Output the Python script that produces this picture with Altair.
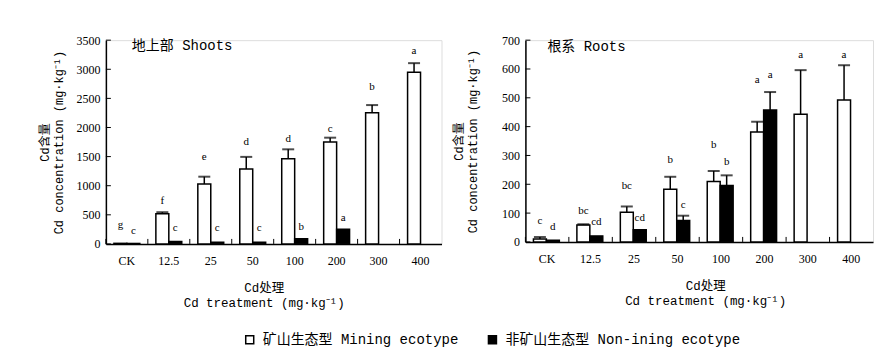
import altair as alt
import pandas as pd

treatments = ["CK", "12.5", "25", "50", "100", "200", "300", "400"]
ecotypes = ["矿山生态型 Mining ecotype", "非矿山生态型 Non-ining ecotype"]

# Shoots (地上部)
shoot_mining = [10, 520, 1030, 1285, 1465, 1750, 2255, 2950]
shoot_mining_err = [None, 545, 1155, 1495, 1625, 1825, 2385, 3105]
shoot_mining_letters = ["g", "f", "e", "d", "d", "c", "b", "a"]
shoot_mining_label_at = [325, 742, 1485, 1753, 1810, 1970, 2695, 3311]
shoot_non = [8, 40, 30, 30, 90, 250, None, None]
shoot_non_err = [None, None, None, None, None, None, None, None]
shoot_non_letters = ["c", "c", "c", "c", "b", "a", None, None]
shoot_non_label_at = [228, 268, 268, 268, 285, 445, None, None]

# Roots (根系)
root_mining = [10, 59, 103, 183, 210, 381, 443, 492]
root_mining_err = [17, 61, 123, 226, 246, 417, 596, 613]
root_mining_letters = ["c", "bc", "bc", "b", "b", "a", "a", "a"]
root_mining_label_at = [71, 106, 195, 285, 337, 562, 648, 648]
root_non = [6, 21, 42, 74, 196, 458, None, None]
root_non_err = [None, None, None, 91, 231, 520, None, None]
root_non_letters = ["d", "cd", "cd", "c", "b", "a", None, None]
root_non_label_at = [52, 68, 83, 127, 276, 579, None, None]

shoot_ticks = [0, 500, 1000, 1500, 2000, 2500, 3000, 3500]
root_ticks = [0, 100, 200, 300, 400, 500, 600, 700]

MONO = "Liberation Mono, Noto Sans CJK SC"
SERIF = "Liberation Serif, Noto Sans CJK SC"


def build_df(m, me, ml, mla, n, ne, nl, nla):
    rows = []
    for i, t in enumerate(treatments):
        rows.append(dict(treatment=t, ecotype=ecotypes[0], value=m[i], err=me[i],
                         letter=ml[i], label_at=mla[i]))
        rows.append(dict(treatment=t, ecotype=ecotypes[1], value=n[i], err=ne[i],
                         letter=nl[i], label_at=nla[i]))
    return pd.DataFrame(rows)


shoot_df = build_df(shoot_mining, shoot_mining_err, shoot_mining_letters, shoot_mining_label_at,
                    shoot_non, shoot_non_err, shoot_non_letters, shoot_non_label_at)
root_df = build_df(root_mining, root_mining_err, root_mining_letters, root_mining_label_at,
                   root_non, root_non_err, root_non_letters, root_non_label_at)

legend = alt.Legend(
    orient="none", legendX=137, legendY=293, direction="horizontal", title=None,
    symbolType="square", symbolSize=64, symbolStrokeColor="black", symbolStrokeWidth=1.5,
    labelFont=MONO, labelFontSize=14, labelColor="black", labelLimit=0,
    columnPadding=26, labelOffset=6,
)


def panel(df, ymax, yticks, title_text, width, height, title_pad, tx, ty, xtitle_x):
    xscale = alt.Scale(domain=treatments, paddingInner=0, paddingOuter=0)
    xoff = alt.XOffset("ecotype:N", sort=ecotypes,
                       scale=alt.Scale(domain=ecotypes, paddingInner=0, paddingOuter=0.62))
    yscale = alt.Scale(domain=[0, ymax], nice=False, zero=True)
    x_axis = alt.Axis(
        labelFont=SERIF, labelFontSize=12, labelColor="black", labelAngle=0,
        ticks=False, labelPadding=12, domainColor="black", domainWidth=1.5,
        title=["Cd处理", "Cd treatment (mg·kg⁻¹)"], titleFont=MONO, titleFontSize=12.5,
        titleFontWeight="normal", titleColor="black", titlePadding=15, titleLineHeight=15,
        titleX=xtitle_x, titleAlign="center",
    )
    y_axis = alt.Axis(
        values=yticks, format="d", labelFont=SERIF, labelFontSize=12, labelColor="black",
        ticks=False, labelPadding=6, domainColor="black", domainWidth=1.5, grid=False,
        title=["Cd含量", "Cd concentration (mg·kg⁻¹)"], titleFont=MONO, titleFontSize=12,
        titleFontWeight="normal", titleColor="black", titlePadding=title_pad,
        titleLineHeight=14,
    )
    x = alt.X("treatment:N", sort=treatments, scale=xscale, axis=x_axis)

    bars = alt.Chart(df).transform_filter("isValid(datum.value)").mark_bar(
        stroke="black", strokeWidth=1.5
    ).encode(
        x=x, xOffset=xoff,
        y=alt.Y("value:Q", scale=yscale, axis=y_axis),
        fill=alt.Fill("ecotype:N", sort=ecotypes,
                      scale=alt.Scale(domain=ecotypes, range=["white", "black"]),
                      legend=legend),
    )
    err_rule = alt.Chart(df).transform_filter("isValid(datum.err)").mark_rule(
        color="black", strokeWidth=1.5
    ).encode(
        x=x, xOffset=xoff,
        y=alt.Y("value:Q", scale=yscale, axis=y_axis), y2="err:Q",
    )
    caps = alt.Chart(df).transform_filter("isValid(datum.err)").mark_tick(
        color="black", thickness=2, size=12, orient="horizontal"
    ).encode(
        x=x, xOffset=xoff,
        y=alt.Y("err:Q", scale=yscale, axis=y_axis),
    )
    letters = alt.Chart(df).transform_filter("isValid(datum.letter)").mark_text(
        font=SERIF, fontSize=11, color="black", baseline="middle"
    ).encode(
        x=x, xOffset=xoff,
        y=alt.Y("label_at:Q", scale=yscale, axis=y_axis),
        text="letter:N",
    )
    xticks = alt.Chart(pd.DataFrame({"treatment": treatments})).mark_rule(
        color="black", strokeWidth=1
    ).encode(
        x=alt.X("treatment:N", sort=treatments, scale=xscale, axis=x_axis, bandPosition=0),
        y=alt.value(height), y2=alt.value(height - 5),
    )
    yticks_layer = alt.Chart(pd.DataFrame({"tick": yticks})).mark_rule(
        color="black", strokeWidth=1
    ).encode(
        y=alt.Y("tick:Q", scale=yscale, axis=y_axis),
        x=alt.value(0), x2=alt.value(5),
    )
    ttl = alt.Chart(pd.DataFrame({"t": [title_text]})).mark_text(
        font=MONO, fontSize=14, color="black", align="left", baseline="middle"
    ).encode(text="t:N", x=alt.value(tx), y=alt.value(ty))

    return alt.layer(bars, err_rule, caps, letters, xticks, yticks_layer, ttl).properties(
        width=width, height=height
    )


left = panel(shoot_df, 3500, shoot_ticks, "地上部 Shoots", 336, 204, 10, 26, 6, 158)
right = panel(root_df, 700, root_ticks, "根系 Roots", 348, 202, 22, 22, 7, 180)

chart = alt.hconcat(left, right, spacing=9).properties(
    padding={"left": 30, "top": 25, "right": 5, "bottom": 5}
).configure_view(strokeWidth=0).configure(background="white")

chart.save("out.html", embed_options={"renderer": "svg", "actions": False})
